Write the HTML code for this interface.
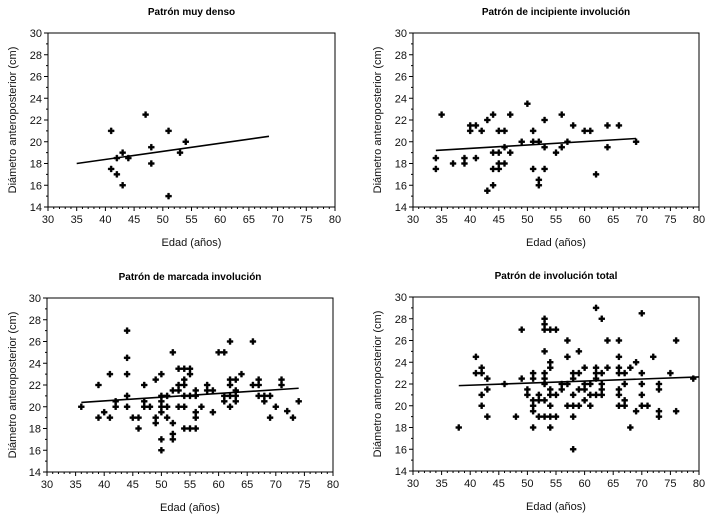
<!DOCTYPE html>
<html><head><meta charset="utf-8"><style>
html,body{margin:0;padding:0;background:#fff;}
svg{display:block;font-family:"Liberation Sans",Arial,sans-serif;}
</style></head><body>
<svg id="chart" width="712" height="515" viewBox="0 0 712 515" xmlns="http://www.w3.org/2000/svg"></svg>
<script>
const titles = ["Patrón muy denso","Patrón de incipiente involución","Patrón de marcada involución","Patrón de involución total"];
const xTicks = [30,35,40,45,50,55,60,65,70,75,80];
const yTicks = [14,16,18,20,22,24,26,28,30];
const p1x=[41,41,42,42,43,43,44,47,48,48,51,51,53,54];
const p1y=[21,17.5,18.5,17,19,16,18.5,22.5,19.5,18,21,15,19,20];
const p1line=[[35,18],[68.5,20.5]];
const p2x=[34,34,35,37,39,39,40,40,41,41,42,43,43,44,44,44,44,45,45,45,45,46,46,46,47,47,49,50,51,51,51,52,52,52,53,53,53,55,56,56,57,58,60,61,62,64,64,66,69];
const p2y=[18.5,17.5,22.5,18,18.5,18,21.5,21,21.5,18.5,21,22,15.5,22.5,19,17.5,16,21,19,18,17.5,21,19.5,18,22.5,19,20,23.5,21,20,17.5,20,16.5,16,22,19.5,17.5,19,22.5,19.5,20,21.5,21,21,17,21.5,19.5,21.5,20];
const p2line=[[34,19.2],[69,20.3]];
const p3x=[36,39,39,40,41,41,42,42,44,44,44,44,44,45,46,46,47,47,47,48,49,49,49,50,50,50,50,50,50,50,51,51,51,52,52,52,52,52,53,53,53,53,54,54,54,54,54,54,55,55,55,55,56,56,56,56,56,57,58,58,59,59,60,61,61,61,62,62,62,62,62,63,63,63,63,64,66,66,67,67,67,68,68,69,69,70,71,71,72,73,74];
const p3y=[20,22,19,19.5,23,19,20.5,20,27,24.5,23,21,20,19,19,18,22,20.5,20,20,22.5,19,18.5,23,21,20.5,20,19.5,17,16,21,20,19,25,21.5,18.5,17.5,17,23.5,22,21.5,20,23.5,22.5,22,21,20,18,23.5,23,21,18,21.5,21,19.5,19,18,20,22,21.5,21.5,19.5,25,25,21,20.5,26,22.5,22,21,20,22.5,21.5,21,20.5,23,26,22,22.5,22,21,21,20.5,21,19,20,22.5,22,19.6,19,20.5];
const p3line=[[36,20.4],[74,21.7]];
const p4x=[38,41,41,42,42,42,42,43,43,43,46,48,49,49,50,50,51,51,51,51,51,51,52,52,52,53,53,53,53,53,53,53,53,53,54,54,54,54,54,54,54,54,55,55,55,56,56,57,57,57,57,58,58,58,58,58,58,59,59,59,59,60,60,60,60,61,61,61,62,62,62,62,62,63,63,63,63,63,64,64,66,66,66,66,66,66,66,67,67,67,67,68,68,69,69,70,70,70,70,70,71,72,73,73,73,73,75,76,76,79];
const p4y=[18,24.5,23,23.5,23,21,20,22.5,21.5,19,22,19,27,22.5,21.5,21,23,22.5,20.5,20,19.5,18,21,20.5,19,28,27.5,27,25,23,22.5,22,20.5,19,27,24,23.5,21.5,21,20,19,18,27,21,19,21.5,22,26,24.5,22,20,23,22.5,21,20,19,16,25,23,21.5,20,23.5,22,21.5,20.5,22,21,20,29,23.5,23,22.5,21,28,23,22,21.5,21,26,23.5,26,24.5,23.5,23,21.5,21,20,23,22,20.5,20,23.5,18,24,19.5,28.5,23,22,21,20,20,24.5,22,21.5,19.5,19,23,26,19.5,22.5];
const p4line=[[38,21.85],[80,22.65]];

const panels=[
 {L:48,R:335,T:33,B:207,title:titles[0],xs:p1x,ys:p1y,line:p1line,ylab:12},
 {L:413,R:699,T:33,B:207,title:titles[1],xs:p2x,ys:p2y,line:p2line,ylab:377},
 {L:47,R:333,T:298,B:472,title:titles[2],xs:p3x,ys:p3y,line:p3line,ylab:12},
 {L:413,R:699,T:297,B:471,title:titles[3],xs:p4x,ys:p4y,line:p4line,ylab:377}
];
const svg=document.getElementById('chart');
const NS="http://www.w3.org/2000/svg";
function mk(tag,attrs,parent){const e=document.createElementNS(NS,tag);for(const k in attrs)e.setAttribute(k,attrs[k]);(parent||svg).appendChild(e);return e;}
panels.forEach((p,i)=>{
  const g=mk('g',{});
  
  
  const sx=v=>p.L+(v-30)/50*(p.R-p.L);
  const sy=v=>p.B-(v-14)/16*(p.B-p.T);
  const t=mk('text',{x:(p.L+p.R)/2,y:p.T-18,'text-anchor':'middle','font-size':10,'font-weight':'bold'},g);
  t.textContent=p.title;
  
  
  const box=mk('rect',{x:p.L,y:p.T,width:p.R-p.L,height:p.B-p.T,fill:'none',stroke:'#000','stroke-width':1},g);
  
  
  for(let v=30;v<=80;v++){const x=sx(v);const maj=v%5===0;mk('line',{x1:x,x2:x,y1:p.B,y2:p.B+(maj?4:2),stroke:'#000','stroke-width':1},g);}
  for(let v=14;v<=30;v++){const y=sy(v);const maj=v%2===0;mk('line',{x1:p.L,x2:p.L-(maj?4:2),y1:y,y2:y,stroke:'#000','stroke-width':1},g);}
  xTicks.forEach(v=>{const e=mk('text',{x:sx(v),y:p.B+16,'text-anchor':'middle','font-size':11,fill:'#111'},g);e.textContent=v;
    
    });
  yTicks.forEach(v=>{const e=mk('text',{x:p.L-6,y:sy(v)+4,'text-anchor':'end','font-size':11,fill:'#111'},g);e.textContent=v;
    
    });
  const xt=mk('text',{x:(p.L+p.R)/2,y:p.B+39,'text-anchor':'middle','font-size':11,fill:'#111'},g);xt.textContent='Edad (años)';
  
  
  const cy=(p.T+p.B)/2;
  const yt=mk('text',{x:p.ylab,y:cy,'text-anchor':'middle','font-size':11,fill:'#111',transform:`rotate(-90 ${p.ylab} ${cy})`,dy:4},g);yt.textContent='Diámetro anteroposterior (cm)';
  
  
  const ln=mk('line',{x1:sx(p.line[0][0]),y1:sy(p.line[0][1]),x2:sx(p.line[1][0]),y2:sy(p.line[1][1]),stroke:'#000','stroke-width':1.6},g);
  
  
  p.xs.forEach((xv,j)=>{const x=sx(xv),y=sy(p.ys[j]);
    const m=mk('path',{d:`M${x-3} ${y-1}h2v-2h2v2h2v2h-2v2h-2v-2h-2z`,fill:'#000',stroke:'#000','stroke-width':0.4},g);
    
    
  });
});
</script>
</body></html>
